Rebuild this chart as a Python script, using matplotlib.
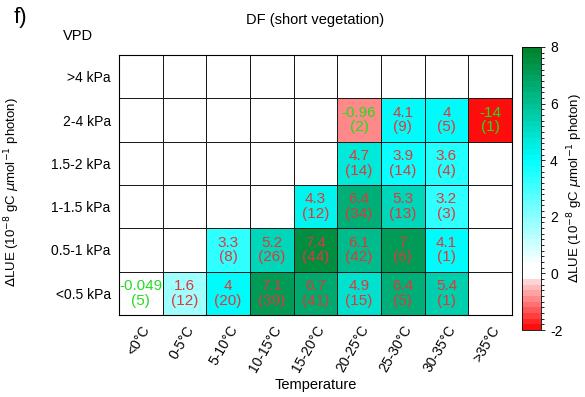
import numpy as np
import matplotlib
matplotlib.use("Agg")
import matplotlib.pyplot as plt
from matplotlib.colors import ListedColormap, BoundaryNorm

plt.rcParams['font.family'] = ['Liberation Sans', 'DejaVu Sans']

temps = ["<0°C", "0-5°C", "5-10°C", "10-15°C", "15-20°C", "20-25°C", "25-30°C", "30-35°C", ">35°C"]
vpds = [">4 kPa", "2-4 kPa", "1.5-2 kPa", "1-1.5 kPa", "0.5-1 kPa", "<0.5 kPa"]
nan = np.nan
values = np.array([
    [nan, nan, nan, nan, nan, nan, nan, nan, nan],
    [nan, nan, nan, nan, nan, -0.96, 4.1, 4, -14],
    [nan, nan, nan, nan, nan, 4.7, 3.9, 3.6, nan],
    [nan, nan, nan, nan, 4.3, 6.4, 5.3, 3.2, nan],
    [nan, nan, 3.3, 5.2, 7.4, 6.1, 7, 4.1, nan],
    [-0.049, 1.6, 4, 7.1, 6.7, 4.9, 6.4, 5.4, nan],
])
counts = np.array([
    [0, 0, 0, 0, 0, 0, 0, 0, 0],
    [0, 0, 0, 0, 0, 2, 9, 5, 1],
    [0, 0, 0, 0, 0, 14, 14, 4, 0],
    [0, 0, 0, 0, 12, 34, 13, 3, 0],
    [0, 0, 8, 26, 44, 42, 6, 1, 0],
    [5, 12, 20, 39, 41, 15, 5, 1, 0],
])

vmin, vmax = -2, 8
levels = np.linspace(vmin, vmax, 51)
centers = 0.5 * (levels[:-1] + levels[1:])
nodes = [-2.0, -0.2, -0.19, 0.3, 4.0, 8.0]
rgb_nodes = np.array([(1, 0, 0), (1, 0.88, 0.88), (1, 1, 1), (1, 1, 1), (0, 1, 1), (0, 0.5, 0.15)])
cols = np.stack([np.interp(centers, nodes, rgb_nodes[:, k]) for k in range(3)], axis=1)
cols[(centers > -0.2) & (centers < 0.3)] = 1.0
cmap = ListedColormap(cols)
cmap.set_bad('white')
norm = BoundaryNorm(levels, cmap.N, clip=True)

fig = plt.figure(figsize=(5.85, 3.97), dpi=100)
W, H = 585, 397
ax = fig.add_axes([119 / W, (H - 315) / H, 393 / W, 260 / H])
nr, nc = values.shape
data = np.ma.masked_invalid(np.clip(values, vmin, vmax - 1e-6))
mesh = ax.pcolormesh(np.arange(nc + 1), np.arange(nr + 1), data, cmap=cmap, norm=norm,
                     edgecolor='#1a1a1a', linewidth=0.6)
ax.set_xlim(0, nc)
ax.set_ylim(nr, 0)
for i in range(nr):
    for j in range(nc):
        v = values[i, j]
        if np.isnan(v):
            continue
        col = '#22dd22' if v < 0 else '#e03838'
        ax.text(j + 0.5, i + 0.5, f"{v:g}\n({counts[i, j]})", ha='center', va='center',
                fontsize=11, color=col, linespacing=1.05)
ax.set_xticks(np.arange(nc) + 0.5)
ax.set_xticklabels(temps, rotation=60, ha='right', rotation_mode='anchor', fontsize=10)
ax.set_yticks(np.arange(nr) + 0.5)
ax.set_yticklabels(vpds, fontsize=10)
ax.tick_params(length=0, pad=6)
ax.set_xlabel("Temperature", fontsize=10.5, labelpad=2)
for s in ax.spines.values():
    s.set_linewidth(0.8)

fig.text(315 / W, 1 - 20 / H, "DF (short vegetation)", ha='center', va='center', fontsize=10.5)
fig.text(14 / W, 1 - 18 / H, "f)", ha='left', va='center', fontsize=16)
fig.text(78 / W, 1 - 36 / H, "VPD", ha='center', va='center', fontsize=10.5)
ylab = r"$\Delta$LUE (10$^{-8}$ gC $\mu$mol$^{-1}$ photon)"
fig.text(12 / W, 1 - 192 / H, ylab, rotation=90, ha='center', va='center', fontsize=9.5)

cax = fig.add_axes([522 / W, (H - 330) / H, 19 / W, 283 / H])
cb = fig.colorbar(mesh, cax=cax, ticks=[-2, 0, 2, 4, 6, 8])
cb.ax.tick_params(labelsize=10, length=3, width=0.6)
cb.outline.set_linewidth(0.6)
cb.ax.set_yticklabels(['-2', '0', '2', '4', '6', '8'])
fig.text(575 / W, 1 - 188 / H, ylab, rotation=90, ha='center', va='center', fontsize=9.5)

fig.savefig("out.png", dpi=100)
